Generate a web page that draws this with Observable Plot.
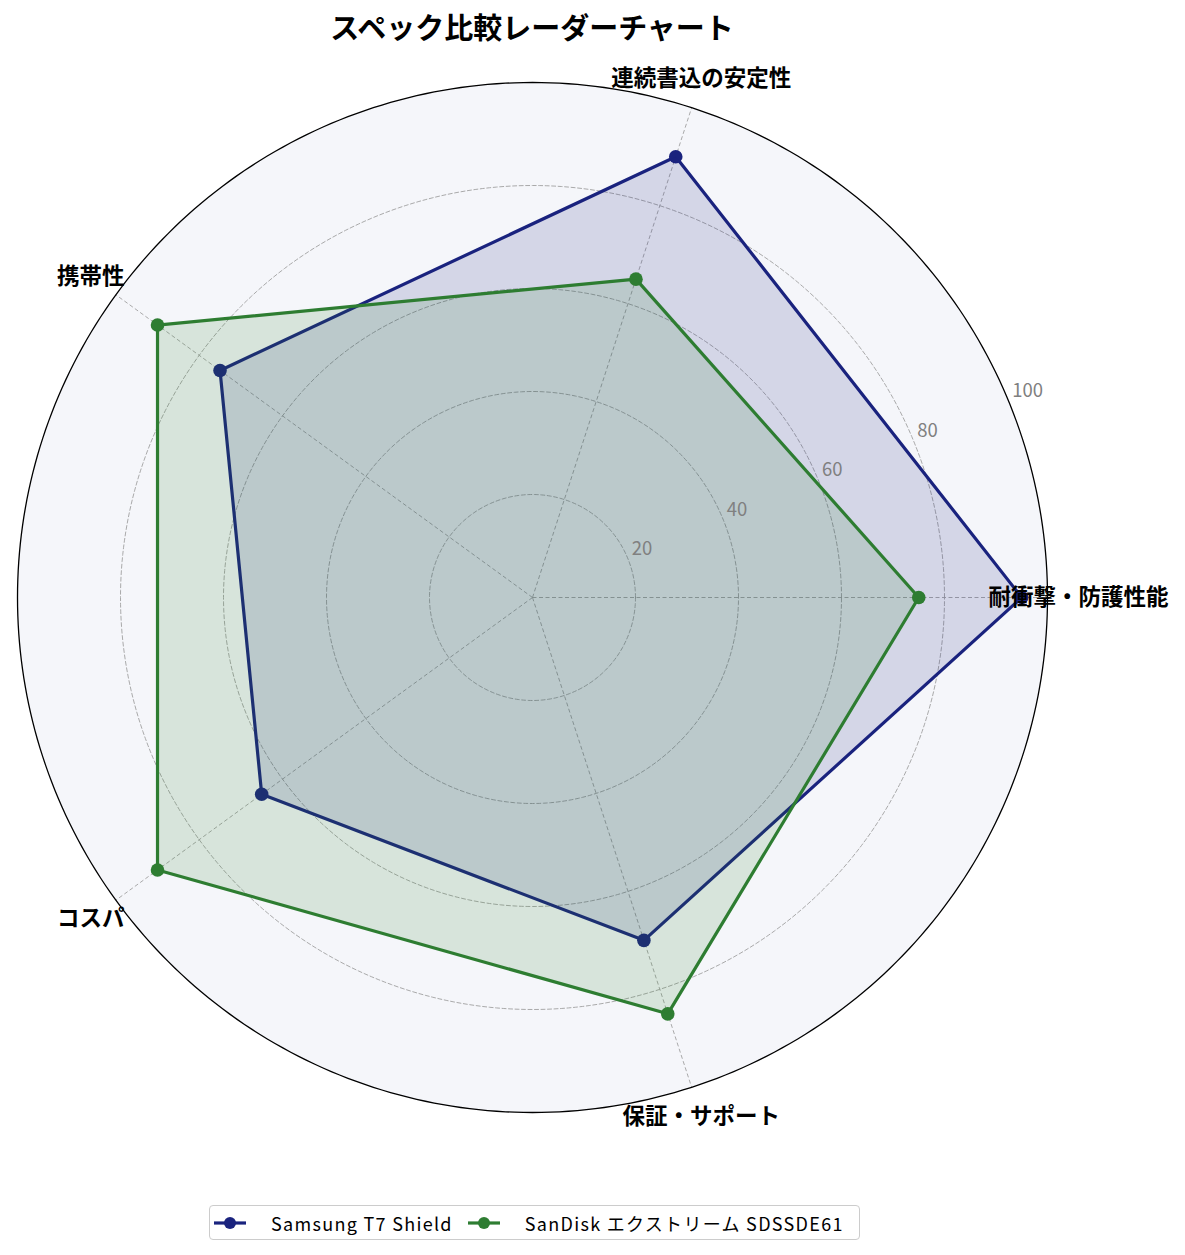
<!DOCTYPE html>
<html><head><meta charset="utf-8">
<script src="https://cdn.jsdelivr.net/npm/d3@7"></script>
<script src="https://cdn.jsdelivr.net/npm/@observablehq/plot@0.6"></script>
<style>
body{margin:0;background:#fff;font-family:"Noto Sans CJK JP","Noto Sans",sans-serif;}
#wrap{position:relative;width:1185px;height:1255px;overflow:hidden;}
#title{position:absolute;left:0;width:1064px;top:6px;text-align:center;font-size:29px;font-weight:bold;line-height:40px;color:#000;}
#chart{position:absolute;left:0;top:52px;}
#legend{position:absolute;left:209px;top:1205px;height:35px;box-sizing:border-box;border:1.5px solid #cccccc;border-radius:4px;padding:0 15px 0 3px;display:flex;align-items:center;font-size:18px;letter-spacing:1.3px;color:#000;background:#fff;}
#legend .item{display:flex;align-items:center;margin-right:14px;}
#legend .item:last-child{margin-right:0;}
#legend svg{margin-right:24px;}
</style>
</head><body>
<div id="wrap">
  <div id="title"></div>
  <div id="chart"></div>
  <div id="legend"></div>
</div>
<script>
const categories = ["耐衝撃・防護性能", "連続書込の安定性", "携帯性", "コスパ", "保証・サポート"];
const seriesNames = ["Samsung T7 Shield", "SanDisk エクストリーム SDSSDE61"];
const samsungValues = [95, 90, 75, 65, 70];
const sandiskValues = [75, 65, 90, 90, 85];
const seriesColors = ["#1a237e", "#2e7d32"];
const radialTicks = [20, 40, 60, 80, 100];
const titleText = "スペック比較レーダーチャート";

document.getElementById("title").textContent = titleText;

const W = 1185, H = 1140;
const cx = 532, cy = 545, pxPerUnit = 5.15;
const n = categories.length;
const ang = i => i * 2 * Math.PI / n;
const rMax = radialTicks[radialTicks.length - 1];

const rows = [];
[samsungValues, sandiskValues].forEach((vals, s) => {
  vals.forEach((v, i) => rows.push({series: seriesNames[s], s, i, value: v}));
});

const ringPts = [];
radialTicks.forEach(t => {
  for (let k = 0; k <= 360; k++) ringPts.push({t, a: k * Math.PI / 180});
});

const px = d => d.value * Math.cos(ang(d.i));
const py = d => d.value * Math.sin(ang(d.i));
const labelAngle = 22.5 * Math.PI / 180;

const marks = [
  Plot.line(ringPts.filter(p => p.t === rMax), {x: p => p.t * Math.cos(p.a), y: p => p.t * Math.sin(p.a), fill: "#f5f6fa", stroke: "none"}),
  Plot.line(ringPts.filter(p => p.t < rMax), {x: p => p.t * Math.cos(p.a), y: p => p.t * Math.sin(p.a), z: "t", stroke: "#a0a0a0", strokeWidth: 0.9, strokeDasharray: "4,2.5"}),
  Plot.link(categories, {x1: 0, y1: 0, x2: (d, i) => rMax * Math.cos(ang(i)), y2: (d, i) => rMax * Math.sin(ang(i)), stroke: "#a0a0a0", strokeWidth: 0.9, strokeDasharray: "4,2.5"})
];

seriesNames.forEach((name, s) => {
  const data = rows.filter(d => d.s === s);
  marks.push(
    Plot.line(data, {x: px, y: py, curve: "linear-closed", stroke: seriesColors[s], strokeWidth: 3.2, strokeLinejoin: "round"}),
    Plot.dot(data, {x: px, y: py, r: 6.8, fill: seriesColors[s], stroke: "none"}),
    Plot.line(data, {x: px, y: py, curve: "linear-closed", fill: seriesColors[s], fillOpacity: 0.15, stroke: "none"})
  );
});

marks.push(
  Plot.line(ringPts.filter(p => p.t === rMax), {x: p => p.t * Math.cos(p.a), y: p => p.t * Math.sin(p.a), stroke: "#000", strokeWidth: 1.3}),
  Plot.text(radialTicks, {x: t => t * Math.cos(labelAngle), y: t => t * Math.sin(labelAngle), text: t => String(t), textAnchor: "start", lineAnchor: "bottom", fill: "#808080", fontSize: 18.5, dx: 4, dy: -3}),
  Plot.text(categories, {x: (d, i) => 106 * Math.cos(ang(i)), y: (d, i) => 106 * Math.sin(ang(i)), text: d => d, fontSize: 22.5, fontWeight: "bold", fill: "#000", textAnchor: "middle", lineAnchor: "middle"})
);

const chart = Plot.plot({
  width: W, height: H,
  marginTop: 0, marginRight: 0, marginBottom: 0, marginLeft: 0,
  x: {axis: null, domain: [-cx / pxPerUnit, (W - cx) / pxPerUnit], range: [0, W]},
  y: {axis: null, domain: [-(H - cy) / pxPerUnit, cy / pxPerUnit], range: [H, 0]},
  style: {background: "transparent", fontFamily: "'Noto Sans CJK JP', 'Noto Sans', sans-serif"},
  marks
});
document.getElementById("chart").appendChild(chart);

const legend = document.getElementById("legend");
seriesNames.forEach((name, s) => {
  const item = document.createElement("div");
  item.className = "item";
  item.innerHTML = `<svg width="34" height="16"><line x1="1" y1="8" x2="33" y2="8" stroke="${seriesColors[s]}" stroke-width="3.2"/><circle cx="17" cy="8" r="6" fill="${seriesColors[s]}"/></svg>`;
  const span = document.createElement("span");
  span.textContent = name;
  item.appendChild(span);
  legend.appendChild(item);
});
</script>
</body></html>
